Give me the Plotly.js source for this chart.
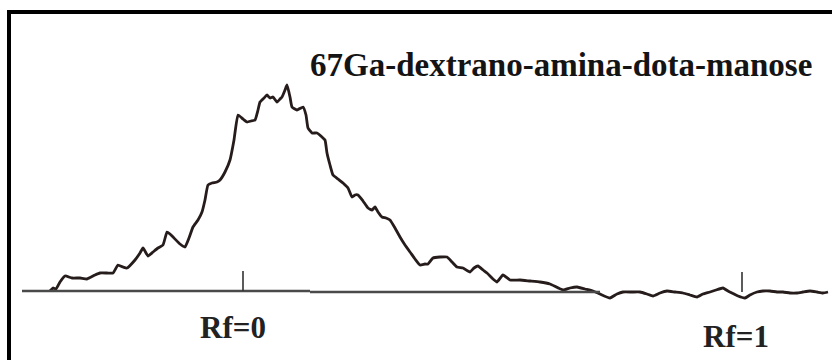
<!DOCTYPE html>
<html>
<head>
<meta charset="utf-8">
<script src="https://cdn.plot.ly/plotly-3.0.1.min.js"></script>
<style>html,body{margin:0;padding:0;background:#fff;}#chart{width:832px;height:360px;}</style>
</head>
<body>
<div id="chart"></div>
<script>
// Position along the strip (arbitrary units, Rf=0 at 0) and relative counts
const position = [-193,-190,-187,-183,-178,-171,-163,-156,-148,-143,-136,-130,-125,-120,-116,-108,-103,-100,-95,-90,-85,-80,-76,-73,-70,-63,-58,-54,-50,-45,-41,-38,-35,-31,-26,-23,-18,-13,-9,-5,0,4,8,12,15,17,21,24,27,30,34,37,39,42,44,47,49,54,60,63,65,69,74,79,82,84,87,90,95,100,105,109,112,115,120,125,129,132,135,139,143,147,152,157,162,167,172,177,182,185,190,197,204,209,214,220,227,231,235,240,244,250,254,260,267,277,287,297,307,320,327,334,342,350,357,367,374,380,389,397,404,410,417,424,432,440,447,454,460,467,473,480,485,489,495,502,507,514,520,527,534,540,547,554,560,567,574,580,585];
const counts = [0,3,2,9,15,13,13,12,16,18,18,18,26,24,23,31,38,43,35,39,43,46,59,57,54,47,44,53,64,71,79,91,106,108,109,111,119,131,151,176,172,169,170,171,181,189,193,196,193,194,189,192,194,201,206,194,184,181,184,176,163,158,158,154,151,138,126,116,112,108,103,94,96,96,90,83,81,84,79,74,73,71,63,54,46,39,32,26,27,27,33,34,34,29,24,23,19,23,25,21,18,12,9,16,11,11,10,9,7,1,3,4,2,0,-3,-7,-3,-1,-1,-1,-3,-5,-2,0,-1,-2,-4,-6,-3,-1,1,3,0,-2,-5,-7,-4,-1,0,0,-1,-1,-2,-2,-1,0,-1,-2,-1];
const rfTickX = [0, 499];
const rfTickY = [0, -1];
const rfLabels = ["Rf=0", "Rf=1"];
const titleText = "67Ga-dextrano-amina-dota-manose";

const serif = "serif";

const traces = [{
  x: position, y: counts, type: 'scatter', mode: 'lines',
  line: {color: '#261c1c', width: 2.8, shape: 'spline', smoothing: 0.4},
  hoverinfo: 'skip'
}];

const shapes = [
  {type:'line', xref:'x', yref:'y', x0:-234, x1:-234, y0:281, y1:-69, line:{color:'#000', width:4}},
  {type:'line', xref:'x', yref:'y', x0:-236, x1:589, y0:279, y1:279, line:{color:'#000', width:4}},
  {type:'line', xref:'x', yref:'y', x0:-221, x1:67, y0:0, y1:0, line:{color:'#4a4a4a', width:2.4}},
  {type:'line', xref:'x', yref:'y', x0:67, x1:357, y0:-1, y1:-1, line:{color:'#4a4a4a', width:2.4}},
];
rfTickX.forEach((x, i) => {
  shapes.push({type:'line', xref:'x', yref:'y', x0:x, x1:x, y0:rfTickY[i], y1:rfTickY[i]+20, line:{color:'#333', width:1.6}});
});

const annotations = [
  {x: 318, y: 226, xref:'x', yref:'y', text: titleText, showarrow:false,
   font:{family: serif, size: 33, color:'#141414', weight:'bold'}, xanchor:'center', yanchor:'middle'},
  {x: -10, y: -36, xref:'x', yref:'y', text: rfLabels[0], showarrow:false,
   font:{family: serif, size: 31, color:'#222222', weight:'bold'}, xanchor:'center', yanchor:'middle'},
  {x: 493, y: -45, xref:'x', yref:'y', text: rfLabels[1], showarrow:false,
   font:{family: serif, size: 31, color:'#222222', weight:'bold'}, xanchor:'center', yanchor:'middle'}
];

const layout = {
  width: 832, height: 360,
  margin: {l:0, r:0, t:0, b:0, pad:0},
  paper_bgcolor: '#fff', plot_bgcolor: '#fff',
  showlegend: false,
  xaxis: {range: [-243, 589], visible: false, fixedrange: true},
  yaxis: {range: [-69, 291], visible: false, fixedrange: true},
  shapes: shapes,
  annotations: annotations
};

Plotly.newPlot('chart', traces, layout, {staticPlot: true, displayModeBar: false});
</script>
</body>
</html>
